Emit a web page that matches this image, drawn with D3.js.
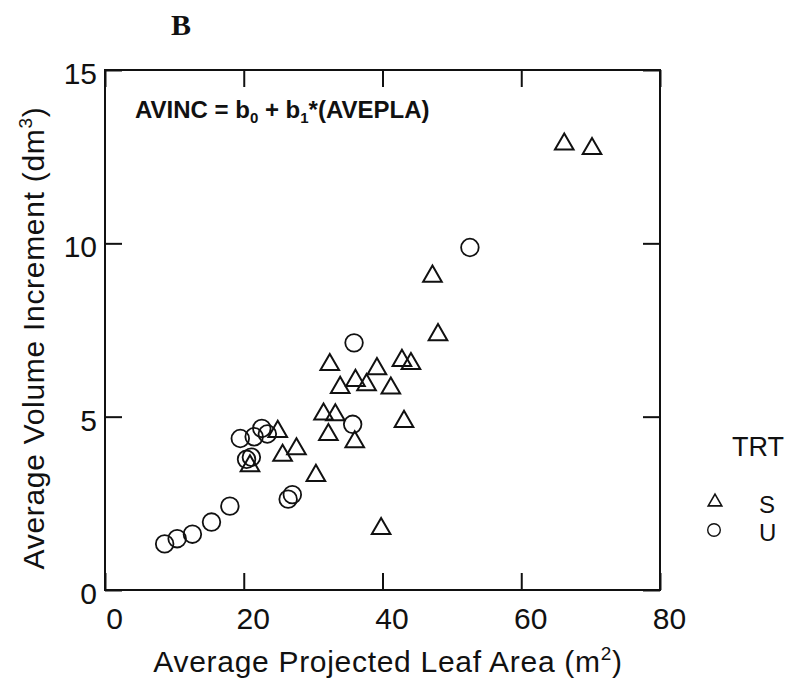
<!DOCTYPE html>
<html>
<head>
<meta charset="utf-8">
<script src="https://cdn.jsdelivr.net/npm/d3@7"></script>
<style>
  body { margin: 0; background: #fff; }
  svg text { font-family: "Liberation Sans", Arial, Helvetica, sans-serif; fill: #111; }
</style>
</head>
<body>
<div id="chart"></div>
<script>
// treatment S (triangles)
const sArea = [20.9, 24.9, 27.6, 25.6, 30.4, 39.8, 32.4, 33.9, 36.1, 37.7, 39.2, 41.2,
  31.5, 33.2, 32.2, 36.0, 48.0, 42.8, 44.1, 43.1, 47.2, 66.2, 70.2];
const sVol = [3.58, 4.57, 4.07, 3.88, 3.30, 1.77, 6.50, 5.84, 6.04, 5.92, 6.38, 5.82,
  5.07, 5.05, 4.48, 4.27, 7.36, 6.62, 6.53, 4.86, 9.05, 12.86, 12.73];

// treatment U (circles)
const uArea = [8.6, 10.4, 12.6, 15.35, 18.0, 19.5, 21.5, 22.6, 23.4, 20.4, 21.1, 26.4,
  27.0, 35.9, 35.7, 52.6];
const uVol = [1.33, 1.48, 1.61, 1.96, 2.42, 4.37, 4.42, 4.66, 4.50, 3.77, 3.83, 2.62,
  2.75, 7.13, 4.78, 9.88];

const xTicks = [0, 20, 40, 60, 80];
const yTicks = [0, 5, 10, 15];

const width = 791;
const height = 682;
const margin = { top: 70, right: 131, bottom: 92, left: 105 };

const svg = d3.select("#chart").append("svg")
  .attr("width", width)
  .attr("height", height);

svg.append("rect").attr("width", width).attr("height", height).attr("fill", "#fff");

const x = d3.scaleLinear().domain([0, 80]).range([margin.left, width - margin.right]);
const y = d3.scaleLinear().domain([0, 15]).range([height - margin.bottom, margin.top]);

const tickLen = 17;

// axes with inward ticks on all four sides
svg.append("g")
  .attr("class", "xaxis")
  .attr("transform", `translate(0, ${y(0)})`)
  .call(d3.axisBottom(x).tickValues(xTicks).tickSize(-tickLen).tickPadding(18))
  .call((g) => g.select(".domain").remove());

svg.append("g")
  .attr("transform", `translate(0, ${y(15)})`)
  .call(d3.axisTop(x).tickValues(xTicks).tickSize(-tickLen).tickFormat(""))
  .call((g) => g.select(".domain").remove());

svg.append("g")
  .attr("class", "yaxis")
  .attr("transform", `translate(${x(0)}, 0)`)
  .call(d3.axisLeft(y).tickValues(yTicks).tickSize(-tickLen).tickPadding(8))
  .call((g) => g.select(".domain").remove());

svg.append("g")
  .attr("transform", `translate(${x(80)}, 0)`)
  .call(d3.axisRight(y).tickValues(yTicks).tickSize(-tickLen).tickFormat(""))
  .call((g) => g.select(".domain").remove());

svg.selectAll(".tick line").attr("stroke", "#111").attr("stroke-width", 2);
svg.selectAll(".tick text")
  .attr("font-size", 30)
  .attr("font-family", "Liberation Sans, Arial, sans-serif")
  .attr("fill", "#111");
svg.selectAll(".xaxis .tick text").attr("dx", 9);
svg.selectAll(".yaxis .tick text").attr("dy", "0.45em");

// frame
svg.append("rect")
  .attr("x", x(0))
  .attr("y", y(15))
  .attr("width", x(80) - x(0))
  .attr("height", y(0) - y(15))
  .attr("fill", "none")
  .attr("stroke", "#111")
  .attr("stroke-width", 2);

// panel letter
svg.append("text")
  .attr("x", 181)
  .attr("y", 35)
  .attr("text-anchor", "middle")
  .style("font-family", "Liberation Serif, Times New Roman, serif")
  .attr("font-weight", "bold")
  .attr("font-size", 30)
  .text("B");

// model equation
const eq = svg.append("text")
  .attr("x", 135)
  .attr("y", 118)
  .attr("font-weight", "bold")
  .attr("font-size", 24);
eq.append("tspan").text("AVINC = b");
eq.append("tspan").attr("font-size", 15).attr("dy", 5).text("0");
eq.append("tspan").attr("dy", -5).text(" + b");
eq.append("tspan").attr("font-size", 15).attr("dy", 5).text("1");
eq.append("tspan").attr("dy", -5).text("*(AVEPLA)");

// axis titles
const xt = svg.append("text")
  .attr("x", 388)
  .attr("y", 672)
  .attr("text-anchor", "middle")
  .attr("font-size", 30)
  .attr("letter-spacing", 0.7);
xt.append("tspan").text("Average Projected Leaf Area (m");
xt.append("tspan").attr("font-size", 19).attr("dy", -12).text("2");
xt.append("tspan").attr("dy", 12).text(")");

const yt = svg.append("text")
  .attr("transform", "translate(44, 338) rotate(-90)")
  .attr("text-anchor", "middle")
  .attr("font-size", 30)
  .attr("letter-spacing", 0.7);
yt.append("tspan").text("Average Volume Increment (dm");
yt.append("tspan").attr("font-size", 19).attr("dy", -12).text("3");
yt.append("tspan").attr("dy", 12).text(")");

// points
const sData = sArea.map((a, i) => ({ a: a, v: sVol[i] }));
const uData = uArea.map((a, i) => ({ a: a, v: uVol[i] }));

const tri = d3.symbol().type(d3.symbolTriangle).size(150);

svg.selectAll("path.s")
  .data(sData)
  .enter()
  .append("path")
  .attr("class", "s")
  .attr("d", tri)
  .attr("transform", (d) => `translate(${x(d.a)}, ${y(d.v)})`)
  .attr("fill", "none")
  .attr("stroke", "#111")
  .attr("stroke-width", 2);

svg.selectAll("circle.u")
  .data(uData)
  .enter()
  .append("circle")
  .attr("class", "u")
  .attr("cx", (d) => x(d.a))
  .attr("cy", (d) => y(d.v))
  .attr("r", 8.8)
  .attr("fill", "none")
  .attr("stroke", "#111")
  .attr("stroke-width", 1.8);

// legend
const legend = svg.append("g");
legend.append("text").attr("x", 732).attr("y", 456).attr("font-size", 27).text("TRT");
legend.append("path")
  .attr("d", d3.symbol().type(d3.symbolTriangle).size(80))
  .attr("transform", "translate(715, 502)")
  .attr("fill", "none")
  .attr("stroke", "#111")
  .attr("stroke-width", 1.6);
legend.append("text").attr("x", 759).attr("y", 513).attr("font-size", 24).text("S");
legend.append("circle")
  .attr("cx", 714)
  .attr("cy", 530)
  .attr("r", 6.3)
  .attr("fill", "none")
  .attr("stroke", "#111")
  .attr("stroke-width", 1.4);
legend.append("text").attr("x", 759).attr("y", 541).attr("font-size", 24).text("U");
</script>
</body>
</html>
